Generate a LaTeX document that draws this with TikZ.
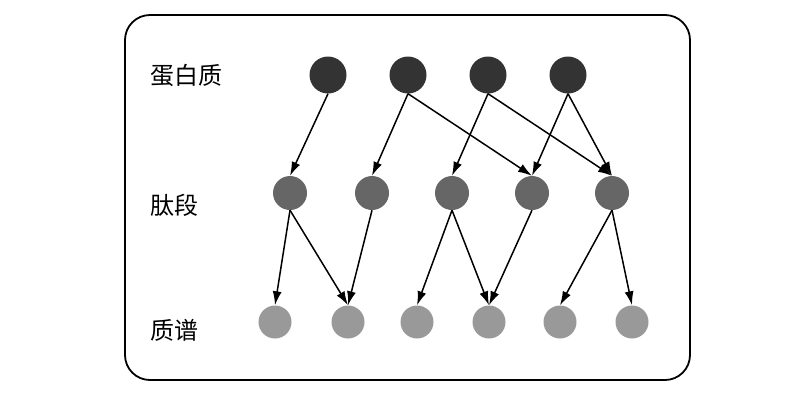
\documentclass[tikz,border=0pt]{standalone}
\usepackage{fontspec}
\newfontfamily\cjk{Noto Sans CJK SC}
\usetikzlibrary{arrows.meta}
\definecolor{protgray}{HTML}{333333}
\definecolor{pepgray}{HTML}{666666}
\definecolor{specgray}{HTML}{999999}

\begin{document}
\begin{tikzpicture}[x=1pt,y=-1pt,
            prot/.style={circle,fill=protgray,minimum size=37pt,inner sep=0pt},
            pep/.style={circle,fill=pepgray,minimum size=34pt,inner sep=0pt},
            spec/.style={circle,fill=specgray,minimum size=33pt,inner sep=0pt},
            lab/.style={font=\cjk\fontsize{24}{28}\selectfont},
            edge/.style={-{Latex[length=14pt,width=9pt]},line width=1.5pt}]
            \useasboundingbox (0,0) rectangle (800,400);
            \draw[line width=1.8pt,rounded corners=25pt] (125,15) rectangle (690,380);
            \node[lab] (lprot) at (186,75) {蛋白质};
            \node[lab] (lpep) at (174,205) {肽段};
            \node[lab] (lspec) at (174,330) {质谱};
            \foreach \x [count=\i] in {328,408,488,568} \node[prot] (p\i) at (\x,75) {};
            \foreach \x [count=\i] in {290,372,452,532,612} \node[pep] (t\i) at (\x,193) {};
            \foreach \x [count=\i] in {275,348,417,489,560,632} \node[spec] (s\i) at (\x,322) {};
            \foreach \a/\b in {1/1,2/2,2/4,3/3,3/5,4/4,4/5} \draw[edge] (p\a.south) -- (t\b.north);
            \foreach \a/\b in {1/1,1/2,2/2,3/3,3/4,4/4,5/5,5/6} \draw[edge] (t\a.south) -- (s\b.north);
\end{tikzpicture}
\end{document}
